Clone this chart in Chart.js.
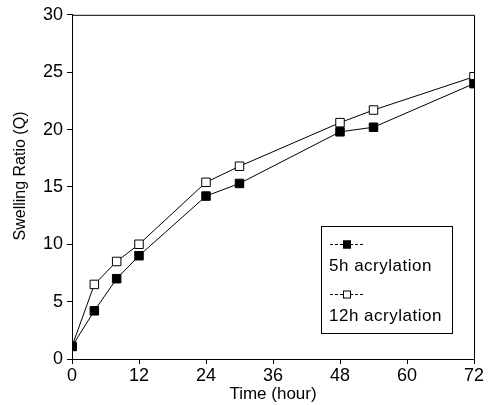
<!DOCTYPE html>
<html>
<head>
<meta charset="utf-8">
<script src="https://cdn.jsdelivr.net/npm/chart.js@4.4.1/dist/chart.umd.min.js"></script>
<style>
  html, body { margin: 0; padding: 0; background: #fff; }
  #wrap { width: 495px; height: 405px; }
</style>
</head>
<body>
<div id="wrap"><canvas id="swellChart" width="495" height="405"></canvas></div>
<script>
// Data
const hours = [0, 4, 8, 12, 24, 30, 48, 54, 72];
const acryl5h = [1.1, 4.2, 7.0, 9.0, 14.2, 15.3, 19.8, 20.2, 24.0];
const acryl12h = [1.1, 6.5, 8.5, 10.0, 15.4, 16.8, 20.6, 21.7, 24.6];
const seriesNames = ['5h acrylation', '12h acrylation'];
const xTicks = [0, 12, 24, 36, 48, 60, 72];
const yTicks = [0, 5, 10, 15, 20, 25, 30];
const yTitle = 'Swelling Ratio (Q)';

const FONT = 'Liberation Sans, Arial, Helvetica, sans-serif';

const toPoints = (xs, ys) => xs.map((x, i) => ({ x: x, y: ys[i] }));

// draws the full frame (top + right sides), the y title and the boxed legend
const frameAndLegend = {
    id: 'frameAndLegend',
    afterDraw(chart) {
        const ctx = chart.ctx;
        const a = chart.chartArea;
        ctx.save();
        ctx.strokeStyle = '#000';
        ctx.lineWidth = 1;
        ctx.beginPath();
        ctx.moveTo(a.left, a.top + 0.5);
        ctx.lineTo(a.right + 0.5, a.top + 0.5);
        ctx.lineTo(a.right + 0.5, a.bottom);
        ctx.stroke();

        // y axis title, sits a bit above the middle in the original
        ctx.save();
        ctx.translate(20.5, 176);
        ctx.rotate(-Math.PI / 2);
        ctx.font = '16px ' + FONT;
        ctx.textAlign = 'center';
        ctx.textBaseline = 'middle';
        ctx.fillStyle = '#000';
        ctx.fillText(yTitle, 0, 0);
        ctx.restore();

        // legend box
        const bx = 321, by = 226, bw = 131, bh = 107;
        ctx.strokeRect(bx + 0.5, by + 0.5, bw, bh);
        ctx.font = '17px ' + FONT;
        ctx.letterSpacing = '0.5px';
        ctx.textBaseline = 'middle';
        ctx.fillStyle = '#000';
        chart.data.datasets.forEach((ds, i) => {
            const ly = by + 18 + i * 50;
            ctx.setLineDash([3, 2]);
            ctx.beginPath();
            ctx.moveTo(bx + 9, ly + 0.5);
            ctx.lineTo(bx + 42, ly + 0.5);
            ctx.stroke();
            ctx.setLineDash([]);
            ctx.fillStyle = ds.pointBackgroundColor;
            ctx.fillRect(bx + 22, ly - 3.5, 8, 8);
            ctx.strokeRect(bx + 22.5, ly - 3, 7, 7);
            ctx.fillStyle = '#000';
            ctx.fillText(ds.label, bx + 8, ly + 22);
        });
        ctx.restore();
    }
};

new Chart(document.getElementById('swellChart'), {
    type: 'line',
    data: {
        datasets: [
            {
                label: seriesNames[0],
                data: toPoints(hours, acryl5h),
                borderColor: '#000',
                borderWidth: 1,
                pointStyle: 'rect',
                pointRadius: 6,
                pointBorderWidth: 1,
                pointBackgroundColor: '#000',
                pointBorderColor: '#000',
                tension: 0
            },
            {
                label: seriesNames[1],
                data: toPoints(hours, acryl12h),
                borderColor: '#000',
                borderWidth: 1,
                pointStyle: 'rect',
                pointRadius: 6,
                pointBorderWidth: 1,
                pointBackgroundColor: '#fff',
                pointBorderColor: '#000',
                tension: 0
            }
        ]
    },
    options: {
        responsive: false,
        animation: false,
        layout: { padding: { left: 0, right: 21, top: 14, bottom: 0 } },
        plugins: { legend: { display: false }, tooltip: { enabled: false } },
        scales: {
            x: {
                type: 'linear',
                min: 0,
                max: 72,
                afterBuildTicks: (s) => { s.ticks = xTicks.map(v => ({ value: v })); },
                afterFit: (s) => { s.height = 46; },
                grid: { drawOnChartArea: false, drawTicks: true, tickLength: 5, color: '#000' },
                border: { display: true, color: '#000', width: 1 },
                ticks: { color: '#000', font: { family: FONT, size: 18 }, padding: 1, maxRotation: 0 },
                title: {
                    display: true,
                    text: 'Time (hour)',
                    color: '#000',
                    font: { family: FONT, size: 17 },
                    padding: { top: 0, bottom: 0 }
                }
            },
            y: {
                min: 0,
                max: 30,
                afterBuildTicks: (s) => { s.ticks = yTicks.map(v => ({ value: v })); },
                afterFit: (s) => { s.width = 72; },
                grid: { drawOnChartArea: false, drawTicks: true, tickLength: 5, color: '#000' },
                border: { display: true, color: '#000', width: 1 },
                ticks: { color: '#000', font: { family: FONT, size: 18 }, padding: 4 },
                title: { display: false }
            }
        }
    },
    plugins: [frameAndLegend]
});
</script>
</body>
</html>
